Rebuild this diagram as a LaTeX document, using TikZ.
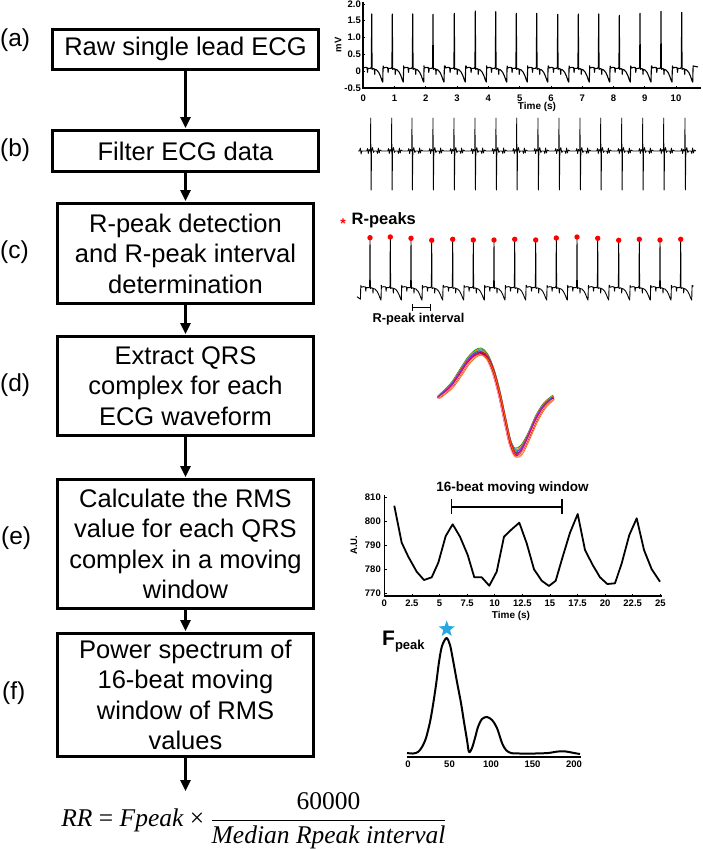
\documentclass[tikz,border=0pt]{standalone}
\usepackage{graphicx}
\usepackage[no-math]{fontspec}
\setmainfont{Liberation Sans}
\newfontfamily\frmfont{Liberation Serif}
\usetikzlibrary{arrows.meta,shapes.geometric}
\definecolor{starblue}{HTML}{27A8E0}
\newcommand\ecgbeat[4]{%
 -- ({#1-9.2},{#3-#4*0.15}) -- ({#1-8.6},{#3-#4*0.09}) -- ({#1-6.5},{#3-#4*0.11})
 -- ({#1-4.6},{#3-#4*0.10}) -- ({#1-4.2},{#3+#4*0.04}) -- ({#1-3.8},{#3-#4*0.08})
 -- ({#1-1},{#3-#4*0.08}) -- ({#1-0.35},{#3-#4*0.12}) -- (#1,#2)
 -- ({#1+0.35},{#3-#4*0.05}) -- ({#1+1.5},{#3-#4*0.07}) -- ({#1+2.7},{#3-#4*0.06})
 -- ({#1+3},{#3+#4*0.1}) -- ({#1+3.3},{#3-#4*0.05}) -- ({#1+5},{#3-#4*0.03})
 -- ({#1+7},{#3+#4*0.04}) -- ({#1+8.7},{#3+#4*0.15}) -- ({#1+10.2},{#3+#4*0.28})
 -- ({#1+11},{#3+#4*0.33}) -- ({#1+11.4},{#3-#4*0.15})}
\newcommand\filtbeat[1]{%
 -- ({#1-9.5},151) -- ({#1-4},151) -- ({#1-3.2},148.5) -- ({#1-2.4},153.5) -- ({#1-1.6},149.5)
 -- ({#1-0.8},151) -- ({#1-0.3},150) -- (#1,118) -- ({#1+0.4},190) -- ({#1+0.9},151)
 -- ({#1+1.8},147.5) -- ({#1+2.8},152.5) -- ({#1+3.6},151) -- ({#1+6},151) -- ({#1+6.8},153.5)
 -- ({#1+7.6},148) -- ({#1+8.5},153) -- ({#1+9.3},150) -- ({#1+11},151)}
\begin{document}
\begin{tikzpicture}[x=1pt,y=-1pt,
  box/.style={draw, line width=3pt, align=center, inner sep=0pt, minimum width=266pt,
    font=\fontsize{25.5}{30.5}\selectfont},
  boxn/.style={box, minimum width=256pt},
  flow/.style={line width=2.6pt, -{Triangle[length=11pt,width=10pt]}, shorten >=1pt},
  lab/.style={anchor=west, inner sep=0pt, font=\fontsize{24.5}{28}\selectfont},
  tk/.style={inner sep=0pt, font=\bfseries\fontsize{9.5}{10}\selectfont},
  axl/.style={inner sep=0pt, font=\bfseries\fontsize{10}{11}\selectfont},
  axisline/.style={line width=1.2pt},
  ecg/.style={line width=1.1pt, line join=round},
  qrs/.style={line width=0.8pt, smooth}]
\useasboundingbox (0,0) rectangle (703,849);

% ---------------- flow chart ----------------
\node[box, minimum height=40pt] (a) at (185.5,49) {Raw single lead ECG};
\node[box, minimum height=41pt] (b) at (185.5,151) {Filter ECG data};
\node[boxn, minimum height=100pt] (c) at (185.5,253.5) {R-peak detection\\and R-peak interval\\determination};
\node[boxn, minimum height=99pt] (d) at (185.5,386) {Extract QRS\\complex for each\\ECG waveform};
\node[boxn, minimum height=129pt] (e) at (185.5,544) {Calculate the RMS\\value for each QRS\\complex in a moving\\window};
\node[boxn, minimum height=123pt] (f) at (185.5,695) {Power spectrum of\\16-beat moving\\window of RMS\\values};

\node[lab] (la) at (0,40) {(a)};
\node[lab] (lb) at (0,150) {(b)};
\node[lab] (lc) at (0,252) {(c)};
\node[lab] (ld) at (0,385) {(d)};
\node[lab] (le) at (1,538) {(e)};
\node[lab] (lf) at (2,693) {(f)};

\draw[flow] (a) -- (b);
\draw[flow] (b) -- (c);
\draw[flow] (c) -- (d);
\draw[flow] (d) -- (e);
\draw[flow] (e) -- (f);
\coordinate (fend) at (185.5,792);
\draw[flow] (f) -- (fend);

\node[inner sep=0pt] (rr) at (254,821)
  {\frmfont\fontsize{25.5}{30}\selectfont\itshape RR \upshape= \itshape Fpeak \upshape×
   $\displaystyle{\hbox{\frmfont\fontsize{25.5}{30}\selectfont 60000}\above1.3pt
     \hbox{\frmfont\fontsize{25.5}{30}\selectfont\itshape Median Rpeak interval}}$};

% ---------------- (a) raw ECG ----------------
\draw[axisline] (363,2) -- (363,88) -- (701,88);
\foreach \v/\t [count=\i] in {2/2.0,1.5/1.5,1/1.0,0.5/0.5,0/0,-0.5/-0.5}{
  \node[tk, anchor=east] (yta\i) at (361,{71-33.5*\v}) {\t};
  \draw[line width=0.8pt] (363,{71-33.5*\v}) -- (365,{71-33.5*\v});
}
\foreach \i in {0,...,10}{
  \node[tk] (xta\i) at ({363.3+31.27*\i},98) {\i};
  \draw[line width=0.8pt] ({363.3+31.27*\i},88) -- ({363.3+31.27*\i},86);
}
\node[axl] (tta) at (537,107) {Time (s)};
\node[tk, rotate=90] (mva) at (338,45) {mV};
\draw[ecg] (362.5,{71-33.5*0.15})
  \foreach \p/\y in {371.7/14, 392.3/14, 412.7/14, 433/14.3, 454.3/13.3, 475.3/11, 495.7/11.7,
    516.3/13.3, 536.7/13.3, 557.7/14.3, 578.3/14, 598.7/14, 619.3/15.3, 640/13.3, 661/11.3, 681.7/12.3}
  {\ecgbeat{\p}{\y}{71}{33.5}} -- (698,{71-33.5*0.12});

% ---------------- (b) filtered ECG ----------------
\draw[line width=0.8pt, line join=round] (358,151) -- (359.5,151) -- (360.3,148) -- (361.1,154) -- (362,151)
  \foreach \p in {370.7,391.7,412,433,454,475,496,516.7,538,559,580,600.7,621.7,642.7,663.7,685}
  {\filtbeat{\p}} -- (696,151);

% ---------------- (c) R-peaks ----------------
\node[inner sep=0pt, text=red, font=\bfseries\fontsize{14}{14}\selectfont] (ast) at (343,224) {*};
\node[inner sep=0pt, anchor=west, font=\bfseries\fontsize{16.5}{18}\selectfont] (rpk) at (351.5,220) {R-peaks};
\draw[line width=0.9pt, line join=round] (357,{290+30.5*0.22}) -- (360.4,{290+30.5*0.3})
  \foreach \p/\y in {370/237.7, 390.3/237, 411/238.3, 431.7/240.3, 452.7/239.3, 473.3/240, 494/240,
    514.7/239.3, 535.7/240, 556.3/238, 577/237, 597.7/238.3, 618.7/240.3, 639.3/239.3, 660/240, 680.7/239.3}
  {\ecgbeat{\p}{\y}{290}{30.5}} -- (693.5,{290-30.5*0.12});
\foreach \p/\y in {370/237.7, 390.3/237, 411/238.3, 431.7/240.3, 452.7/239.3, 473.3/240, 494/240,
    514.7/239.3, 535.7/240, 556.3/238, 577/237, 597.7/238.3, 618.7/240.3, 639.3/239.3, 660/240, 680.7/239.3}
  \fill[red] (\p,\y) circle[radius=2.7];
\draw[line width=1.4pt] (412.3,303.5) -- (412.3,311) (412.3,307.3) -- (430.7,307.3) (430.7,303.5) -- (430.7,311);
\node[inner sep=0pt, font=\bfseries\fontsize{12.8}{14}\selectfont] (rint) at (418.5,319) {R-peak interval};

% ---------------- (d) QRS overlay ----------------
\foreach \dx/\dy/\col in {0/-3/green!60!black, 0.6/-2/olive, -0.4/-1.5/orange, 1/-1/cyan!70!black,
   -0.6/0/blue!70, 0.3/0.5/teal, 1.2/1/red, 0/1.5/violet, -0.8/2/magenta, 0.8/2.5/purple,
   0.2/3/red!80!black, -0.3/3.8/pink!80!red, 1.4/4/orange!80!red}
  \draw[qrs, draw=\col] plot coordinates {({438+\dx},{397+\dy*0.4}) ({445+\dx},{391+\dy*0.6}) ({452+\dx},{384+\dy*0.8})
     ({460+\dx},{372+\dy}) ({468+\dx},{360+\dy}) ({475+\dx},{353+\dy}) ({481+\dx},{351+\dy}) ({487+\dx},{356+\dy})
     ({493+\dx},{370+\dy}) ({499+\dx},{392+\dy}) ({505+\dx},{420+\dy}) ({510+\dx},{442+\dy}) ({515+\dx},{452+\dy*1.3})
     ({521+\dx},{449+\dy*1.3}) ({528+\dx},{436+\dy}) ({536+\dx},{418+\dy}) ({544+\dx},{405+\dy*0.8}) ({553+\dx},{397+\dy*0.6})};

% ---------------- (e) RMS ----------------
\draw[axisline] (384.3,495) -- (384.3,596) -- (662,596);
\foreach \v [count=\i] in {810,800,790,780,770}{
  \node[tk, anchor=east] (yte\i) at (381,{593-2.4*(\v-770)}) {\v};
  \draw[line width=0.8pt] (384.3,{593-2.4*(\v-770)}) -- (386.5,{593-2.4*(\v-770)});
}
\foreach \t [count=\i] in {0,2.5,5,7.5,10,12.5,15,17.5,20,22.5,25}{
  \node[tk] (xte\i) at ({384.3+11.04*\t},603) {\t};
  \draw[line width=0.8pt] ({384.3+11.04*\t},596) -- ({384.3+11.04*\t},594);
}
\node[axl] (tte) at (511,616) {Time (s)};
\node[tk, rotate=90] (aue) at (354,545) {A.U.};
\draw[line width=1.8pt, line join=round] plot coordinates {(394.3,505.7) (401.7,542.7) (408.3,556.7) (416.7,571.7)
  (424,580) (431.7,577.3) (438.3,562.7) (445.7,536) (452.7,524.3) (460,536.7) (467.7,555) (474.3,577.3)
  (481.7,577.3) (489.3,585.7) (496.7,571.7) (504,536.7) (511.7,529.3) (519.3,522.7) (526.7,543.3) (534,569.3)
  (541.7,580.7) (549,586) (555.7,580.7) (562.7,556.7) (570,532.7) (577.7,514) (585,550) (592.7,565)
  (600,577.3) (607.3,584) (615,583.3) (621.7,563.3) (629.3,535) (636.7,518.3) (644,550) (651.7,569.3) (660,581.7)};
\draw[line width=1.5pt] (451.7,499) -- (451.7,514) (451.7,507) -- (562,507) (562,499) -- (562,514);
\node[inner sep=0pt, font=\bfseries\fontsize{13.5}{15}\selectfont] (win) at (512.5,488) {16-beat moving window};

% ---------------- (f) power spectrum ----------------
\draw[axisline] (407,757) -- (581,757);
\foreach \t [count=\i] in {0,50,100,150,200}{
  \node[tk] (xtf\i) at ({408+0.83*\t},764.5) {\t};
}
\draw[line width=2pt, line join=round] plot[smooth] coordinates {(407,753) (413,753.5) (418,752) (422,747) (426,738)
  (430,722) (433,705) (436,685) (439,662) (442,646) (446.5,638) (450,645) (453,660) (457,682) (461,703)
  (464,722) (467,740) (469,752) (472,748) (475,738) (478,727) (482,719) (487,717) (492,720) (497,728)
  (502,743) (506,750) (511,753) (520,753.5) (535,753.5) (548,753) (558,751.5) (566,751.5) (574,753) (580,754)};
\node[star, star points=5, star point ratio=2.4, fill=starblue, inner sep=0pt, minimum size=17pt] (st) at (446.7,629) {};
\node[inner sep=0pt, anchor=base west, font=\bfseries\fontsize{21}{22}\selectfont] (fpk) at (382,645)
  {F\raisebox{-4pt}{\fontsize{13}{14}\selectfont peak}};
\end{tikzpicture}
\end{document}
